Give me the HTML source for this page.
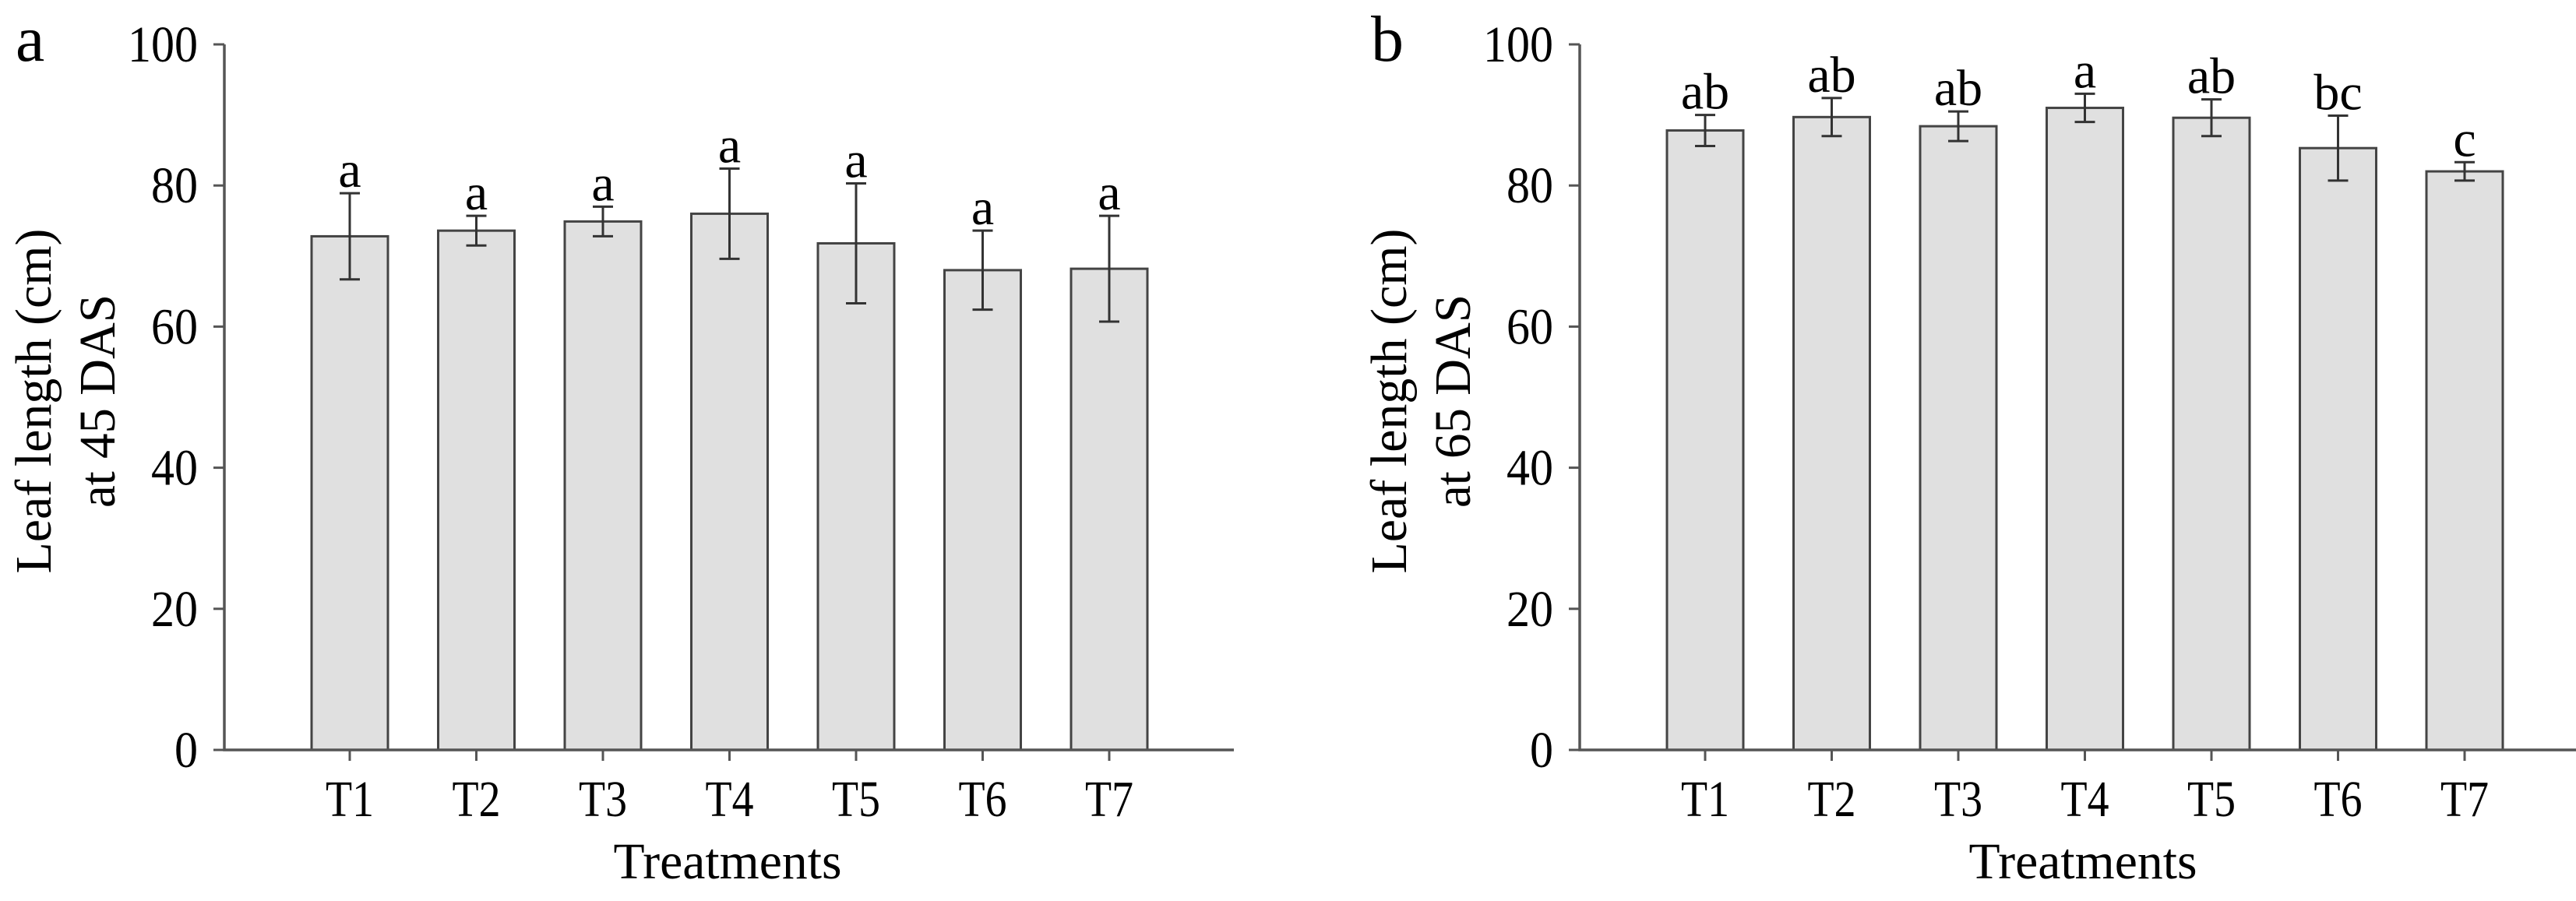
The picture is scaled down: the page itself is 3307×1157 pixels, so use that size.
<!DOCTYPE html>
<html><head><meta charset="utf-8"><style>
html,body{margin:0;padding:0;background:#fff;}
svg{display:block;font-family:"Liberation Serif",serif;}
</style></head><body>
<svg id="fig" width="3307" height="1157" viewBox="0 0 3307 1157"></svg>
<script>
const categories = ["T1","T2","T3","T4","T5","T6","T7"];
const valuesA = [72.8,73.6,74.9,76.0,71.8,68.0,68.2];
const errorsA = [6.1,2.1,2.1,6.4,8.5,5.6,7.5];
const lettersA = ["a","a","a","a","a","a","a"];
const valuesB = [87.8,89.7,88.4,91.0,89.6,85.3,82.0];
const errorsB = [2.2,2.7,2.1,2.0,2.6,4.6,1.3];
const lettersB = ["ab","ab","ab","a","ab","bc","c"];
const yTicks = [0,20,40,60,80,100];

const NS="http://www.w3.org/2000/svg";
const svg=document.getElementById('fig');
function mk(tag,attrs,parent){const e=document.createElementNS(NS,tag);for(const k in attrs)e.setAttribute(k,attrs[k]);(parent||svg).appendChild(e);return e;}

function panel(opt){
  const g=mk('g',{transform:`translate(${opt.dx},0)`});
  
  
  const y0=963,y1=57;
  const axX=288, axEnd=opt.axEnd-opt.dx;
  const ys=v=>y0-(v/100)*(y0-y1);
  const c0=449, step=162.5;
  const xs=i=>c0+i*step;
  const bw=98;
  const pl=mk('text',{x:20,y:78,'font-size':84},g);pl.textContent=opt.letter;
  
  
  categories.forEach((c,i)=>{
    const v=opt.vals[i],e=opt.errs[i],x=xs(i);
    const r=mk('rect',{x:x-bw/2,y:ys(v),width:bw,height:y0-ys(v),fill:'#e0e0e0',stroke:'#444','stroke-width':3},g);
    
    
    const eb=mk('path',{d:`M${x},${ys(v+e)}V${ys(v-e)}M${x-13},${ys(v+e)}H${x+13}M${x-13},${ys(v-e)}H${x+13}`,stroke:'#333','stroke-width':3,fill:'none'},g);
    
    
    const lt=mk('text',{x:x,y:ys(v+e)-8,'font-size':66,'text-anchor':'middle'},g);lt.textContent=opt.lets[i];
    
    
    const tk=mk('line',{x1:x,x2:x,y1:y0,y2:y0+14,stroke:'#555','stroke-width':3},g);
    
    
    const tl=mk('text',{x:x,y:1048,'font-size':66,'text-anchor':'middle',textLength:62,lengthAdjust:'spacingAndGlyphs'},g);tl.textContent=c;
    
    
  });
  const ax=mk('path',{d:`M${axX},${y1}V${y0}H${axEnd}`,stroke:'#555','stroke-width':3.5,fill:'none'},g);
  
  
  yTicks.forEach(t=>{
    const tk=mk('line',{x1:axX-14,x2:axX,y1:ys(t),y2:ys(t),stroke:'#555','stroke-width':3},g);
    
    
    const s=String(t);
    const tl=mk('text',{x:axX-34,y:ys(t)+22,'font-size':66,'text-anchor':'end',textLength:s.length*30,lengthAdjust:'spacingAndGlyphs'},g);tl.textContent=s;
    
    
  });
  const yt=mk('text',{transform:`translate(65,515) rotate(-90)`,'font-size':66,'text-anchor':'middle'},g);
  
  
  const s1=mk('tspan',{x:0,y:0,textLength:443,lengthAdjust:'spacingAndGlyphs'},yt);s1.textContent='Leaf length (cm)';
  const s2=mk('tspan',{x:0,y:82,textLength:274,lengthAdjust:'spacingAndGlyphs'},yt);s2.textContent=opt.title2;
  const xt=mk('text',{x:934,y:1128,'font-size':66,'text-anchor':'middle',textLength:293,lengthAdjust:'spacingAndGlyphs'},g);xt.textContent='Treatments';
  
  
}
panel({name:'panel-a',letter:'a',dx:0,axEnd:1584,vals:valuesA,errs:errorsA,lets:lettersA,title2:'at 45 DAS'});
panel({name:'panel-b',letter:'b',dx:1740,axEnd:3307,vals:valuesB,errs:errorsB,lets:lettersB,title2:'at 65 DAS'});
</script>
</body></html>
